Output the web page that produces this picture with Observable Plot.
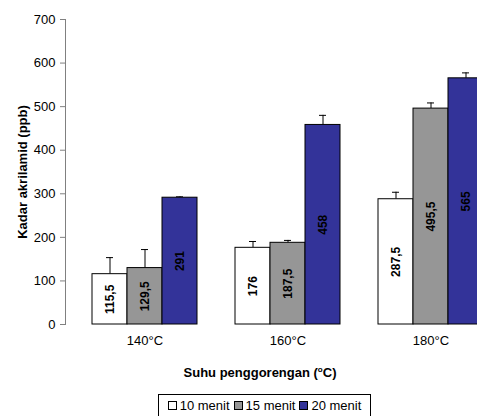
<!DOCTYPE html>
<html>
<head>
<meta charset="utf-8">
<script src="https://cdn.jsdelivr.net/npm/d3@7"></script>
<script src="https://cdn.jsdelivr.net/npm/@observablehq/plot@0.6"></script>
<style>
  html, body { margin: 0; padding: 0; background: #fff; overflow: hidden; width: 477px; height: 416px; }
  body { position: relative; font-family: "Liberation Sans", Arial, sans-serif; }
  #chart svg { max-width: none !important; display: block; }
  #ytitle { position: absolute; left: 22px; top: 172px; transform: translate(-50%, -50%) rotate(-90deg); font-weight: bold; font-size: 13px; white-space: nowrap; }
  #xtitle { position: absolute; left: 260px; top: 365px; transform: translateX(-50%); font-weight: bold; font-size: 13px; white-space: nowrap; }
  #xtitle sup { font-size: 8px; }
  #legend { position: absolute; left: 158px; top: 394px; width: 213px; height: 24px; border: 1px solid #000; font-size: 13px; display: flex; align-items: center; justify-content: center; gap: 4px; box-sizing: border-box; padding-bottom: 1px; white-space: nowrap;}
  #legend span.sw { display: inline-block; width: 7px; height: 7px; border: 1px solid #000; margin-right: 3px; vertical-align: 0px; }
</style>
</head>
<body>
<div id="chart"></div>
<div id="ytitle">Kadar akrilamid (ppb)</div>
<div id="xtitle">Suhu penggorengan (<sup>o</sup>C)</div>
<div id="legend"></div>
<script>
const temps = ["140°C", "160°C", "180°C"];
const times = ["10 menit", "15 menit", "20 menit"];
const colors = ["#ffffff", "#969696", "#333399"];
const values10 = [115.5, 176, 287.5];
const values15 = [129.5, 187.5, 495.5];
const values20 = [291, 458, 565];
const err10 = [38, 14.5, 16];
const err15 = [42.5, 5.5, 13];
const err20 = [2, 22, 12.5];
const yTicks = [0, 100, 200, 300, 400, 500, 600, 700];

const series = [values10, values15, values20];
const errs = [err10, err15, err20];
const data = [];
temps.forEach((t, i) => {
  times.forEach((m, j) => {
    data.push({temp: t, time: m, value: series[j][i], err: errs[j][i], top: series[j][i] + errs[j][i]});
  });
});
const fmt = v => String(v).replace(".", ",");

const plot = Plot.plot({
  width: 494,
  height: 416,
  marginLeft: 65,
  marginRight: 0,
  marginTop: 19,
  marginBottom: 92,
  style: {fontFamily: "'Liberation Sans', Arial, sans-serif", fontSize: "13px", maxWidth: "none", overflow: "visible"},
  fx: {domain: temps, padding: 0, axis: null},
  x: {domain: times, paddingInner: 0, paddingOuter: 0.505, align: 0.72, axis: null},
  y: {domain: [0, 700], axis: null},
  color: {domain: times, range: colors},
  marks: [
    Plot.frame({anchor: "left", facetAnchor: "left", stroke: "#808080"}),
    Plot.axisY({ticks: yTicks, tickSize: 5, tickPadding: 5, label: null, stroke: "#808080", fill: "#000", fontSize: 13}),
    Plot.ruleX(data, {fx: "temp", x: "time", y1: "value", y2: "top", stroke: "#000"}),
    Plot.tickY(data, {fx: "temp", x: "time", y: "top", insetLeft: 14, insetRight: 14, stroke: "#000"}),
    Plot.barY(data, {fx: "temp", x: "time", y: "value", fill: "time", stroke: "#000", strokeWidth: 1}),
    Plot.text(data, {fx: "temp", x: "time", y: d => d.value / 2, text: d => fmt(d.value), rotate: -90, fontWeight: "bold", fontSize: 12, fill: "#000"}),
    Plot.text(temps, {fx: d => d, x: () => times[1], y: () => 0, text: d => d, dy: 16, fontSize: 13, fill: "#000"})
  ]
});
document.getElementById("chart").appendChild(plot);

const legend = document.getElementById("legend");
times.forEach((m, j) => {
  const item = document.createElement("span");
  item.innerHTML = `<span class="sw" style="background:${colors[j]}"></span>${m}`;
  legend.appendChild(item);
});
</script>
</body>
</html>
